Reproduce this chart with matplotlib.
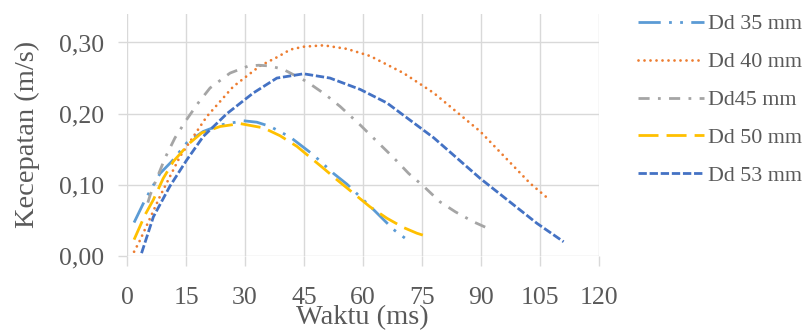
import matplotlib
matplotlib.use("Agg")
import matplotlib.pyplot as plt

plt.rcParams['font.family'] = ['Liberation Serif', 'DejaVu Serif']

# ---- data ----
x35 = [1.8, 4.6, 8.4, 11.4, 15.2, 19.4, 23.7, 29.6, 33.0, 36.4, 41.5, 47.4, 52.5, 55.9, 62.7, 67.8, 70.7]
y35 = [0.047, 0.079, 0.116, 0.133, 0.159, 0.175, 0.184, 0.190, 0.188, 0.182, 0.167, 0.142, 0.116, 0.101, 0.065, 0.037, 0.025]

x40 = [1.8, 3.3, 8.4, 13.5, 20.3, 27.0, 33.8, 38.4, 41.5, 44.8, 50.0, 55.9, 61.8, 70.3, 78.0, 89.8, 102.5, 107.0]
y40 = [0.006, 0.022, 0.084, 0.140, 0.196, 0.238, 0.267, 0.280, 0.290, 0.294, 0.296, 0.291, 0.281, 0.257, 0.229, 0.175, 0.102, 0.081]

x45 = [5.3, 5.9, 9.7, 12.2, 15.2, 18.1, 21.1, 26.2, 30.9, 33.5, 36.4, 39.8, 45.7, 50.4, 54.2, 59.3, 63.9, 67.8, 71.6, 75.4, 79.6, 83.5, 88.1, 92.5]
y45 = [0.075, 0.086, 0.138, 0.166, 0.192, 0.215, 0.236, 0.257, 0.267, 0.268, 0.267, 0.262, 0.245, 0.227, 0.210, 0.184, 0.159, 0.138, 0.116, 0.098, 0.076, 0.062, 0.048, 0.037]

x50 = [1.8, 4.6, 6.7, 9.2, 11.8, 16.0, 19.0, 23.7, 28.8, 34.7, 38.9, 43.2, 50.0, 53.4, 57.6, 61.8, 66.1, 70.3, 73.7, 77.1]
y50 = [0.023, 0.058, 0.079, 0.109, 0.133, 0.159, 0.173, 0.182, 0.186, 0.180, 0.169, 0.154, 0.123, 0.107, 0.088, 0.069, 0.053, 0.040, 0.032, 0.026]

x53 = [3.7, 6.7, 10.9, 15.2, 19.4, 25.4, 32.1, 38.1, 44.9, 51.6, 59.3, 66.1, 78.0, 89.8, 104.2, 111.0]
y53 = [0.004, 0.055, 0.098, 0.135, 0.168, 0.200, 0.229, 0.250, 0.256, 0.250, 0.234, 0.215, 0.166, 0.109, 0.046, 0.020]

labels = ["Dd 35 mm", "Dd 40 mm", "Dd45 mm", "Dd 50 mm", "Dd 53 mm"]
xticks = [0, 15, 30, 45, 60, 75, 90, 105, 120]
yticks = [0.0, 0.1, 0.2, 0.3]
ytick_labels = ["0,00", "0,10", "0,20", "0,30"]

colors = ["#5B9BD5", "#ED7D31", "#A5A5A5", "#FFC000", "#4472C4"]
dashes = [(8, 3, 1, 3, 1, 3), (0.01, 2.15), (4, 3, 1, 3), (7.2, 2.9), (3, 1)]
caps = ["butt", "round", "butt", "butt", "butt"]

fig = plt.figure(figsize=(8.12, 3.30), dpi=100)
ax = fig.add_axes([127/812, 1-256/330, 472/812, 242/330])

series = [(x35, y35), (x40, y40), (x45, y45), (x50, y50), (x53, y53)]
for (xs, ys), lab, c, d, cap in zip(series, labels, colors, dashes, caps):
    ax.plot(xs, ys, color=c, lw=2.0, dashes=d, dash_capstyle=cap,
            solid_capstyle='round', label=lab)

ax.set_xlim(0, 120)
ax.set_ylim(0, 0.34)
ax.set_xticks(xticks)
ax.set_xticklabels([str(v) for v in xticks])
ax.set_yticks(yticks)
ax.set_yticklabels(ytick_labels)
for s in ax.spines.values():
    s.set_visible(False)
ax.grid(True, color="#D9D9D9", lw=1.0)
ax.set_axisbelow(True)
ax.tick_params(axis='both', direction='out', color="#D9D9D9", width=1.0,
               labelcolor="#595959", labelsize=18.5)
ax.tick_params(axis='x', length=7.5, pad=15)
ax.tick_params(axis='y', length=6.5, pad=10)

fig.text(362/812, 1-318/330, "Waktu (ms)", ha='center', va='center',
         fontsize=20.5, color="#595959")
fig.text(27/812, 1-134/330, "Kecepatan (m/s)", ha='center', va='center',
         rotation=90, fontsize=20.5, color="#595959")

leg = fig.legend(loc='upper left', bbox_to_anchor=(638/812, 1-14/330),
                 frameon=False, fontsize=15.8, handlelength=3.0,
                 handletextpad=0.2, labelspacing=0.8, borderpad=0,
                 borderaxespad=0)
for t in leg.get_texts():
    t.set_color("#595959")

fig.savefig("out.png", dpi=100)
